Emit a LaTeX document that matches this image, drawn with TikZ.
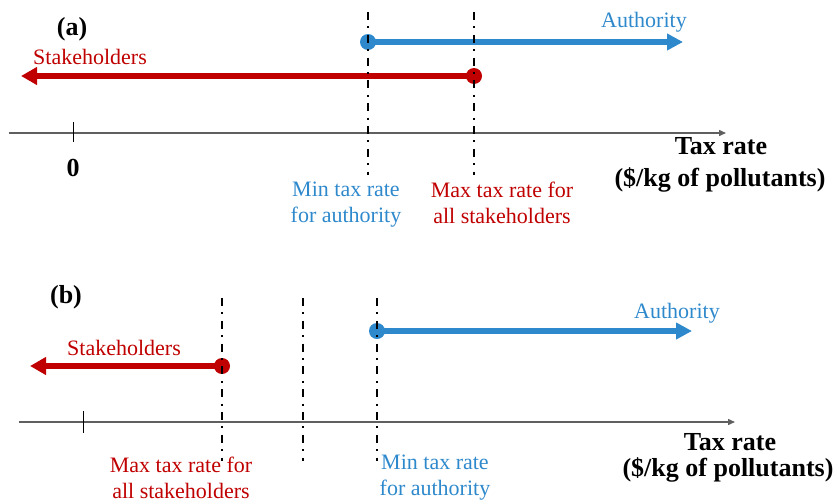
\documentclass[tikz,border=0pt]{standalone}
\usepackage{fontspec}
\setmainfont{Liberation Serif}
\usepackage{xcolor}
\usetikzlibrary{arrows.meta,positioning}
\definecolor{txblue}{RGB}{46,137,204}
\definecolor{txred}{RGB}{192,0,0}
\definecolor{txaxis}{RGB}{95,95,95}
\tikzset{
  lbl/.style={font=\fontsize{11}{13}\selectfont, inner sep=0pt, align=center},
  blulbl/.style={lbl, text=txblue},
  redlbl/.style={lbl, text=txred},
  boldlbl/.style={font=\fontsize{13}{15}\selectfont\bfseries, inner sep=0pt, align=center},
  ptdot/.style={circle, inner sep=0pt, minimum size=8pt, draw=none},
  bluarr/.style={-{Triangle[length=8pt,width=8pt]}, draw=txblue, line width=2.7pt},
  redarr/.style={-{Triangle[length=8pt,width=8.5pt]}, draw=txred, line width=2.7pt},
  axisln/.style={-{Triangle[length=3.5pt,width=3pt]}, draw=txaxis, line width=0.7pt},
  tickln/.style={draw=black, line width=0.5pt},
  ddline/.style={draw=black, line width=1.2pt, dash pattern=on 4pt off 3.2pt on 1pt off 3.2pt}
}
\begin{document}
\begin{tikzpicture}[x=0.5pt, y=-0.5pt]
  \useasboundingbox (0,0) rectangle (839,503);
  % ---- panel (a)
  \node[boldlbl] (tagA) at (72,29) {(a)};
  \coordinate (axAs) at (9,133);
  \coordinate (axAe) at (726,133);
  \draw[axisln] (axAs) -- (axAe);
  \draw[tickln] (73,122) -- (73,142);
  \node[boldlbl] (zeroA) at (73,168) {0};
  \node[ptdot, fill=txblue] (minA) at (368,42) {};
  \coordinate (authA) at (683,42);
  \draw[bluarr] (minA.center) -- (authA);
  \node[ptdot, fill=txred] (maxA) at (474,76) {};
  \coordinate (stkA) at (21,76);
  \draw[redarr] (maxA.center) -- (stkA);
  \foreach \x in {368,474}
    \draw[ddline] (\x,12) -- (\x,175);
  \node[blulbl] (authAlbl) at (644,22) {Authority};
  \node[redlbl] (stkAlbl) at (90,57) {Stakeholders};
  \node[blulbl] (minAlbl) at (346,205) {Min tax rate\\for authority};
  \node[redlbl] (maxAlbl) at (502,203) {Max tax rate for\\all stakeholders};
  \node[boldlbl] (taxA) at (721,146) {Tax rate};
  \node[boldlbl] (unitA) at (720,180) {(\$/kg of pollutants)};
  % ---- panel (b)
  \node[boldlbl] (tagB) at (66,297) {(b)};
  \coordinate (axBs) at (19,422);
  \coordinate (axBe) at (735,422);
  \draw[axisln] (axBs) -- (axBe);
  \draw[tickln] (83,411) -- (83,433);
  \node[ptdot, fill=txblue] (minB) at (377,331) {};
  \coordinate (authB) at (692,331);
  \draw[bluarr] (minB.center) -- (authB);
  \node[ptdot, fill=txred] (maxB) at (222,366) {};
  \coordinate (stkB) at (30,366);
  \draw[redarr] (maxB.center) -- (stkB);
  \foreach \x in {222,303,377}
    \draw[ddline] (\x,298) -- (\x,461);
  \node[blulbl] (authBlbl) at (677,313) {Authority};
  \node[redlbl] (stkBlbl) at (124,348) {Stakeholders};
  \node[redlbl] (maxBlbl) at (181,478) {Max tax rate for\\all stakeholders};
  \node[blulbl] (minBlbl) at (435,478) {Min tax rate\\for authority};
  \node[boldlbl] (taxB) at (730,442) {Tax rate};
  \node[boldlbl] (unitB) at (728,470) {(\$/kg of pollutants)};
\end{tikzpicture}
\end{document}
